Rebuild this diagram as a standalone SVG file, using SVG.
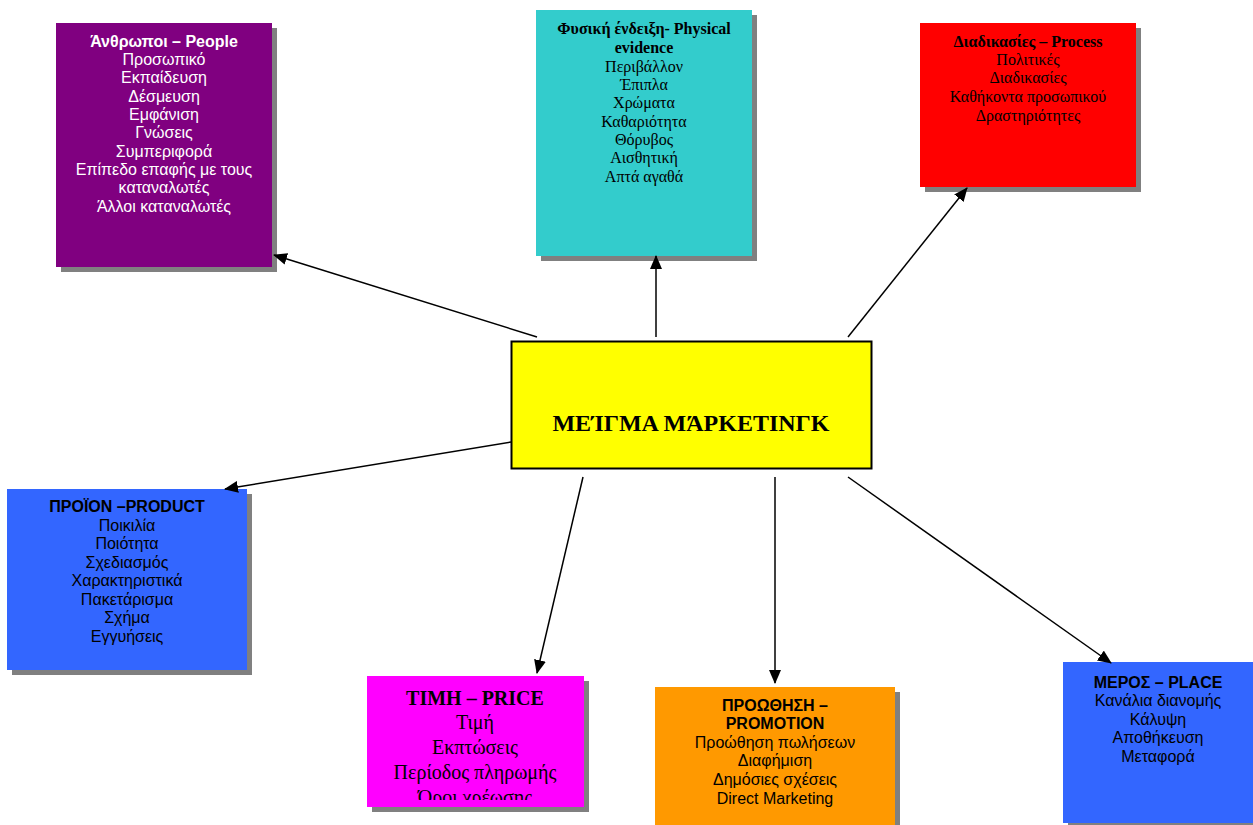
<svg xmlns="http://www.w3.org/2000/svg" width="1253" height="825" viewBox="0 0 1253 825">
<style>
.sh{fill:#808080}
.sans{font-family:"Liberation Sans",Arial,sans-serif;font-size:16px;text-anchor:middle}
.serif{font-family:"Liberation Serif","Times New Roman",serif;font-size:16px;text-anchor:middle}
.b{font-weight:bold}
.conn line{stroke:#000;stroke-width:1.5;marker-end:url(#ah)}
</style>
<defs>
<marker id="ah" markerWidth="14" markerHeight="12" refX="13" refY="6" orient="auto" markerUnits="userSpaceOnUse">
<path d="M0,0 L14,6 L0,12 z" fill="#000"/>
</marker>
<clipPath id="pc"><rect x="367" y="676" width="217" height="124"/></clipPath>
</defs>
<rect width="1253" height="825" fill="#fff"/>

<g id="people">
<rect class="sh" x="61" y="28" width="216" height="244"/>
<rect x="56" y="23" width="216" height="244" fill="#800080"/>
<g class="sans" fill="#fff">
<text x="164" y="47" class="b">Άνθρωποι – People</text>
<text x="164" y="65">Προσωπικό</text>
<text x="164" y="83">Εκπαίδευση</text>
<text x="164" y="102">Δέσμευση</text>
<text x="164" y="120">Εμφάνιση</text>
<text x="164" y="138">Γνώσεις</text>
<text x="164" y="157">Συμπεριφορά</text>
<text x="164" y="175">Επίπεδο επαφής με τους</text>
<text x="164" y="193">καταναλωτές</text>
<text x="164" y="212">Άλλοι καταναλωτές</text>
</g>
</g>

<g id="physical">
<rect class="sh" x="541" y="15" width="216" height="246"/>
<rect x="536" y="10" width="216" height="246" fill="#33CCCC"/>
<g class="serif" fill="#000">
<text x="644" y="34" class="b">Φυσική ένδειξη- Physical</text>
<text x="644" y="53" class="b">evidence</text>
<text x="644" y="72">Περιβάλλον</text>
<text x="644" y="90">Έπιπλα</text>
<text x="644" y="108">Χρώματα</text>
<text x="644" y="127">Καθαριότητα</text>
<text x="644" y="145">Θόρυβος</text>
<text x="644" y="163">Αισθητική</text>
<text x="644" y="182">Απτά αγαθά</text>
</g>
</g>

<g id="process">
<rect class="sh" x="925" y="28" width="216" height="164"/>
<rect x="920" y="23" width="216" height="164" fill="#FF0000"/>
<g class="serif" fill="#000">
<text x="1028" y="47" class="b">Διαδικασίες – Process</text>
<text x="1028" y="65">Πολιτικές</text>
<text x="1028" y="83">Διαδικασίες</text>
<text x="1028" y="102">Καθήκοντα προσωπικού</text>
<text x="1028" y="121">Δραστηριότητες</text>
</g>
</g>

<g id="product">
<rect class="sh" x="12" y="494" width="240" height="181"/>
<rect x="7" y="489" width="240" height="181" fill="#3366FF"/>
<g class="sans" fill="#000">
<text x="127" y="512" class="b">ΠΡΟΪΟΝ –PRODUCT</text>
<text x="127" y="531">Ποικιλία</text>
<text x="127" y="549">Ποιότητα</text>
<text x="127" y="568">Σχεδιασμός</text>
<text x="127" y="586">Χαρακτηριστικά</text>
<text x="127" y="605">Πακετάρισμα</text>
<text x="127" y="623">Σχήμα</text>
<text x="127" y="642">Εγγυήσεις</text>
</g>
</g>

<g id="price">
<rect class="sh" x="372" y="681" width="217" height="131"/>
<rect x="367" y="676" width="217" height="131" fill="#FF00FF"/>
<g class="serif" fill="#000" style="font-size:20px" clip-path="url(#pc)">
<text x="475" y="705" class="b">ΤΙΜΗ – PRICE</text>
<text x="475" y="729">Τιμή</text>
<text x="475" y="754">Εκπτώσεις</text>
<text x="475" y="779">Περίοδος πληρωμής</text>
<text x="475" y="804">Όροι χρέωσης</text>
</g>
</g>

<g id="promotion">
<rect class="sh" x="660" y="692" width="240" height="140"/>
<rect x="655" y="687" width="240" height="140" fill="#FF9900"/>
<g class="sans" fill="#000">
<text x="775" y="711" class="b">ΠΡΟΩΘΗΣΗ –</text>
<text x="775" y="729" class="b">PROMOTION</text>
<text x="775" y="748">Προώθηση πωλήσεων</text>
<text x="775" y="766">Διαφήμιση</text>
<text x="775" y="785">Δημόσιες σχέσεις</text>
<text x="775" y="804">Direct Marketing</text>
</g>
</g>

<g id="place">
<rect class="sh" x="1068" y="667" width="190" height="161"/>
<rect x="1063" y="662" width="190" height="161" fill="#3366FF"/>
<g class="sans" fill="#000">
<text x="1158" y="688" class="b">ΜΕΡΟΣ – PLACE</text>
<text x="1158" y="706">Κανάλια διανομής</text>
<text x="1158" y="725">Κάλυψη</text>
<text x="1158" y="743">Αποθήκευση</text>
<text x="1158" y="762">Μεταφορά</text>
</g>
</g>

<g id="center">
<rect x="511.5" y="341.5" width="360" height="127" fill="#FFFF00" stroke="#000" stroke-width="2"/>
<text x="691" y="431" class="serif b" style="font-size:24px" fill="#000">ΜΕΊΓΜΑ ΜΆΡΚΕΤΙΝΓΚ</text>
</g>

<g class="conn" id="connectors">
<line x1="537" y1="337" x2="274" y2="255"/>
<line x1="656" y1="337" x2="656" y2="256"/>
<line x1="848" y1="337" x2="967" y2="188"/>
<line x1="511" y1="442" x2="225" y2="489"/>
<line x1="583" y1="477" x2="537" y2="673"/>
<line x1="775" y1="477" x2="775" y2="683"/>
<line x1="848" y1="477" x2="1111" y2="663"/>
</g>
</svg>
